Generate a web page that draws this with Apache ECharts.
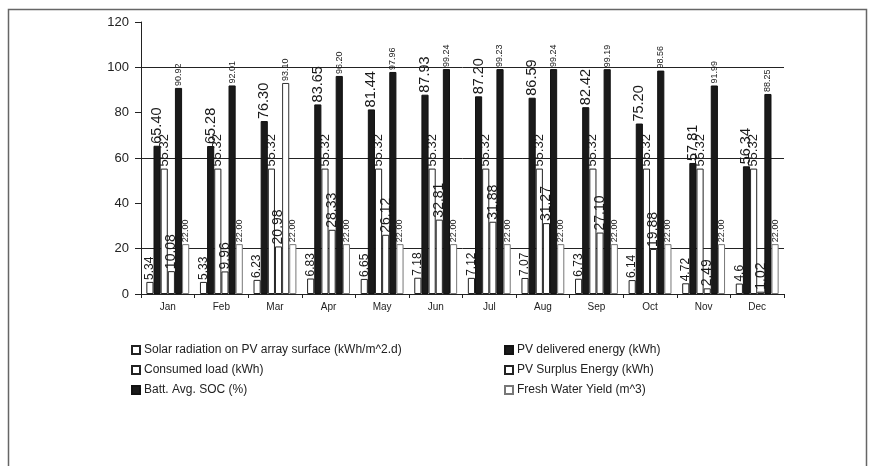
<!DOCTYPE html>
<html>
<head>
<meta charset="utf-8">
<script src="https://cdn.jsdelivr.net/npm/echarts@6/dist/echarts.min.js"></script>
<style>html,body{margin:0;padding:0;background:#fff}#c{width:875px;height:466px}</style>
</head>
<body>
<div id="c"></div>
<script>
var months = ['Jan','Feb','Mar','Apr','May','Jun','Jul','Aug','Sep','Oct','Nov','Dec'];
var yTicks = [0, 20, 40, 60, 80, 100, 120];
var solarRadiation = [5.34, 5.33, 6.23, 6.83, 6.65, 7.18, 7.12, 7.07, 6.73, 6.14, 4.72, 4.6];
var pvDelivered = [65.40, 65.28, 76.30, 83.65, 81.44, 87.93, 87.20, 86.59, 82.42, 75.20, 57.81, 56.34];
var consumedLoad = [55.32, 55.32, 55.32, 55.32, 55.32, 55.32, 55.32, 55.32, 55.32, 55.32, 55.32, 55.32];
var pvSurplus = [10.08, 9.96, 20.98, 28.33, 26.12, 32.81, 31.88, 31.27, 27.10, 19.88, 2.49, 1.02];
var battSOC = [90.92, 92.01, 93.10, 96.20, 97.96, 99.24, 99.23, 99.24, 99.19, 98.56, 91.99, 88.25];
var freshWater = [22.00, 22.00, 22.00, 22.00, 22.00, 22.00, 22.00, 22.00, 22.00, 22.00, 22.00, 22.00];

var names = ['Solar radiation on PV array surface (kWh/m^2.d)', 'PV delivered energy (kWh)',
  'Consumed load (kWh)', 'PV Surplus Energy (kWh)', 'Batt. Avg. SOC (%)', 'Fresh Water Yield (m^3)'];

var FONT = 'Liberation Sans, Arial, sans-serif';
function fmt(v, dec) { return v.toFixed(dec); }

function mkSeries(name, data, fill, border, fontSize, labelFn, special) {
  return {
    name: name, type: 'bar', barGap: '0%', barCategoryGap: '20%',
    data: data.map(function (v, i) {
      var d = { value: v };
      if (special && special[i]) d.itemStyle = special[i];
      return d;
    }),
    itemStyle: { color: fill, borderColor: border, borderWidth: 1 },
    label: {
      show: true, position: 'top', rotate: 90, align: 'left', verticalAlign: 'middle',
      distance: 2, fontFamily: FONT, fontSize: fontSize, color: '#1a1a1a',
      formatter: function (p) { return labelFn(p.value); }
    },
    emphasis: { disabled: true }
  };
}

var legendCommon = {
  orient: 'vertical', top: 339, itemWidth: 8, itemHeight: 8, itemGap: 8, icon: 'rect',
  textStyle: { fontFamily: FONT, fontSize: 12, color: '#222', padding: [0, 0, 0, -1] },
  selectedMode: false
};

var chart = echarts.init(document.getElementById('c'), null, { renderer: 'canvas' });
chart.setOption({
  animation: false,
  backgroundColor: '#fff',
  grid: { left: 141, right: 91, top: 22, bottom: 172 },
  xAxis: {
    type: 'category', data: months,
    axisLine: { lineStyle: { color: '#222', width: 1 } },
    axisTick: { show: true, length: 4, lineStyle: { color: '#222' } },
    axisLabel: { fontFamily: FONT, fontSize: 10, color: '#222', margin: 8 }
  },
  yAxis: {
    type: 'value', min: 0, max: 120, interval: 20,
    axisLine: { show: true, lineStyle: { color: '#222', width: 1 } },
    axisTick: { show: true, length: 6, lineStyle: { color: '#222' } },
    axisLabel: { fontFamily: FONT, fontSize: 13, color: '#222', margin: 12 },
    splitLine: { show: true, lineStyle: { color: ['rgba(0,0,0,0)', '#222'], width: 1 } }
  },
  legend: [
    Object.assign({}, legendCommon, { left: 126, data: [names[0], names[2], names[4]] }),
    Object.assign({}, legendCommon, { left: 499, data: [names[1], names[3], names[5]] })
  ],
  graphic: [
    { type: 'polyline', shape: { points: [[8.5, 466], [8.5, 9.5], [866.5, 9.5], [866.5, 466]] },
      style: { stroke: '#666', lineWidth: 1.5, fill: null } }
  ],
  series: [
    mkSeries(names[0], solarRadiation, '#fff', '#222', 12, function (v) { return String(v); }),
    mkSeries(names[1], pvDelivered, '#1a1a1a', '#111', 14.5, function (v) { return fmt(v, 2); }),
    mkSeries(names[2], consumedLoad, '#fff', '#222', 13, function (v) { return fmt(v, 2); }),
    mkSeries(names[3], pvSurplus, '#fff', '#222', 14, function (v) { return fmt(v, 2); }),
    mkSeries(names[4], battSOC, '#1a1a1a', '#111', 9, function (v) { return fmt(v, 2); },
      { 2: { color: '#fff', borderColor: '#333', borderWidth: 1 } }),
    mkSeries(names[5], freshWater, '#fff', '#777', 9, function (v) { return fmt(v, 2); })
  ]
});
</script>
</body>
</html>
